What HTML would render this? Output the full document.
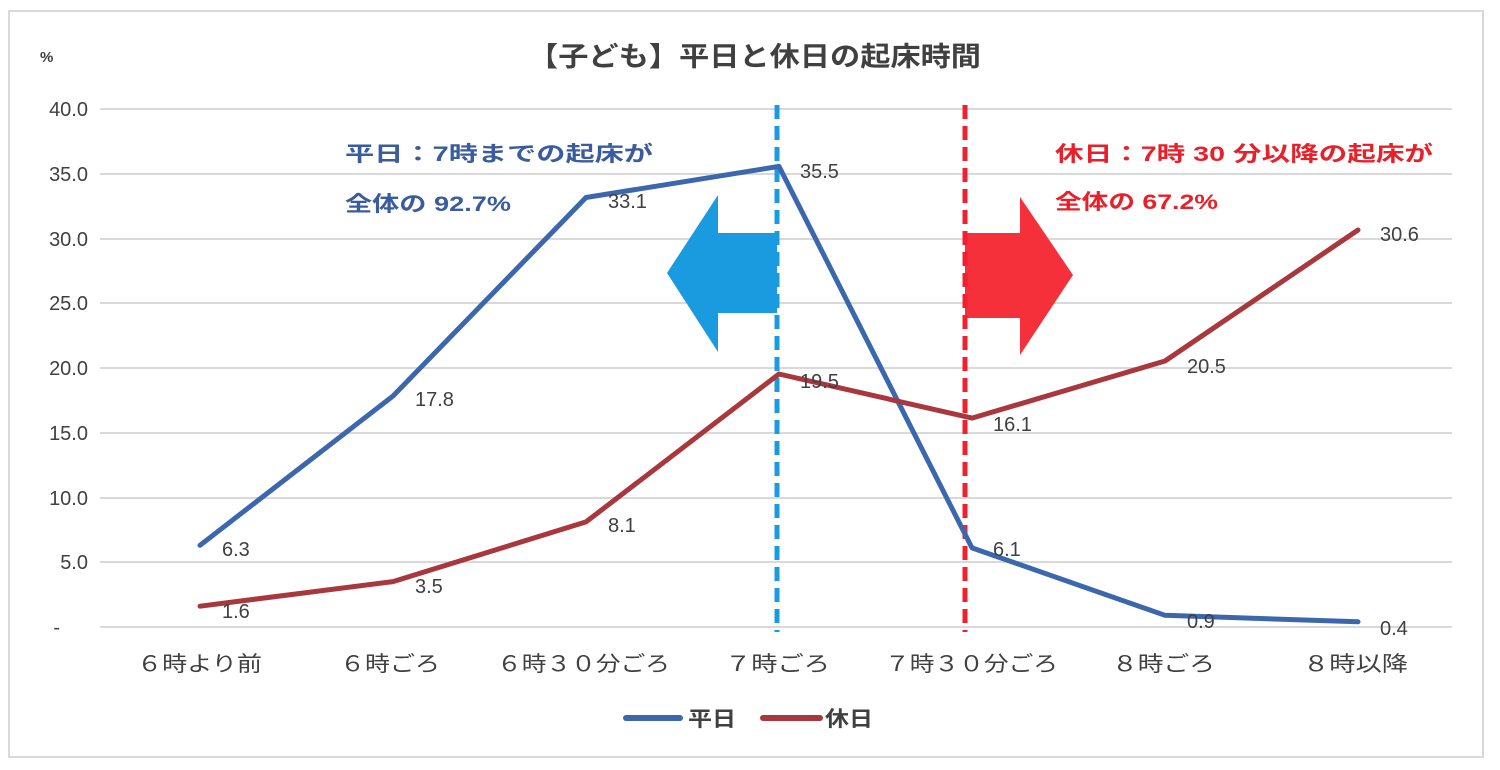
<!DOCTYPE html>
<html><head><meta charset="utf-8"><style>
html,body{margin:0;padding:0;background:#fff;}
svg{display:block;}
text{font-family:"Liberation Sans","Noto Sans CJK JP",sans-serif;}
</style></head><body>
<svg width="1500" height="770" viewBox="0 0 1500 770" xmlns="http://www.w3.org/2000/svg">
<rect x="0" y="0" width="1500" height="770" fill="#fff"/>
<rect x="9" y="11" width="1474" height="746" fill="#fff" stroke="#d9d9d9" stroke-width="2"/>
<!-- gridlines -->
<g stroke="#d9d9d9" stroke-width="2">
<line x1="100" y1="109" x2="1452" y2="109"/>
<line x1="100" y1="174" x2="1452" y2="174"/>
<line x1="100" y1="239" x2="1452" y2="239"/>
<line x1="100" y1="303" x2="1452" y2="303"/>
<line x1="100" y1="368" x2="1452" y2="368"/>
<line x1="100" y1="433" x2="1452" y2="433"/>
<line x1="100" y1="498" x2="1452" y2="498"/>
<line x1="100" y1="562" x2="1452" y2="562"/>
<line x1="100" y1="627" x2="1452" y2="627"/>
</g>
<!-- y labels -->
<g fill="#404040" font-size="20" text-anchor="end">
<text x="88" y="116">40.0</text>
<text x="88" y="181">35.0</text>
<text x="88" y="246">30.0</text>
<text x="88" y="310">25.0</text>
<text x="88" y="375">20.0</text>
<text x="88" y="440">15.0</text>
<text x="88" y="505">10.0</text>
<text x="88" y="569">5.0</text>
<text x="60" y="634">-</text>
</g>
<text x="40" y="62" fill="#404040" font-size="15" font-weight="bold">%</text>
<!-- title -->
<text x="528" y="66" fill="#404040" font-size="27" font-weight="bold" textLength="453" lengthAdjust="spacingAndGlyphs">【子ども】平日と休日の起床時間</text>
<!-- arrows -->
<polygon points="777,233 718,233 718,195 667,273 718,352 718,313 777,313" fill="#1a9be0"/>
<polygon points="965,233 1020,233 1020,197 1073,275 1020,355 1020,318 965,318" fill="#f5303b"/>
<!-- dashed lines -->
<line x1="777" y1="105" x2="777" y2="632" stroke="#1a9be0" stroke-width="5" stroke-dasharray="14,7"/>
<line x1="965" y1="105" x2="965" y2="632" stroke="#f0202e" stroke-width="5" stroke-dasharray="14,7"/>
<!-- series -->
<polyline fill="none" stroke="#3d67ad" stroke-width="5" stroke-linejoin="round" stroke-linecap="round"
points="200,545.3 393,396.0 586,197.5 779,166.4 972,547.9 1165,615.3 1358,621.8"/>
<polyline fill="none" stroke="#a8383d" stroke-width="5" stroke-linejoin="round" stroke-linecap="round"
points="200,606.2 393,581.6 586,521.9 779,374.0 972,418.1 1165,361.0 1358,230.0"/>
<!-- data labels -->
<g fill="#404040" font-size="20">
<text x="222" y="556">6.3</text>
<text x="415" y="406">17.8</text>
<text x="608" y="208">33.1</text>
<text x="800" y="178">35.5</text>
<text x="993" y="556">6.1</text>
<text x="1187" y="628">0.9</text>
<text x="1380" y="635">0.4</text>
<text x="222" y="618">1.6</text>
<text x="415" y="593">3.5</text>
<text x="608" y="532">8.1</text>
<text x="800" y="388">19.5</text>
<text x="993" y="431">16.1</text>
<text x="1187" y="373">20.5</text>
<text x="1380" y="241">30.6</text>
</g>
<!-- annotations -->
<g font-size="21" font-weight="bold">
<text x="345" y="161" fill="#3a5c9e" textLength="308" lengthAdjust="spacingAndGlyphs">平日：7時までの起床が</text>
<text x="345" y="211" fill="#3a5c9e" textLength="166" lengthAdjust="spacingAndGlyphs">全体の 92.7%</text>
<text x="1055" y="161" fill="#e8202a" textLength="378" lengthAdjust="spacingAndGlyphs">休日：7時 30 分以降の起床が</text>
<text x="1055" y="209" fill="#e8202a" textLength="163" lengthAdjust="spacingAndGlyphs">全体の 67.2%</text>
</g>
<!-- category labels -->
<g fill="#404040" font-size="21">
<text x="137" y="671" textLength="125" lengthAdjust="spacingAndGlyphs">６時より前</text>
<text x="340" y="671" textLength="100" lengthAdjust="spacingAndGlyphs">６時ごろ</text>
<text x="497" y="671" textLength="173" lengthAdjust="spacingAndGlyphs">６時３０分ごろ</text>
<text x="725" y="671" textLength="105" lengthAdjust="spacingAndGlyphs">７時ごろ</text>
<text x="885" y="671" textLength="173" lengthAdjust="spacingAndGlyphs">７時３０分ごろ</text>
<text x="1112" y="671" textLength="103" lengthAdjust="spacingAndGlyphs">８時ごろ</text>
<text x="1303" y="671" textLength="105" lengthAdjust="spacingAndGlyphs">８時以降</text>
</g>
<!-- legend -->
<line x1="626" y1="718" x2="680" y2="718" stroke="#3d67ad" stroke-width="6" stroke-linecap="round"/>
<text x="688" y="726" fill="#404040" font-size="21" font-weight="bold" textLength="48" lengthAdjust="spacingAndGlyphs">平日</text>
<line x1="763" y1="718" x2="820" y2="718" stroke="#a8383d" stroke-width="6" stroke-linecap="round"/>
<text x="825" y="726" fill="#404040" font-size="21" font-weight="bold" textLength="48" lengthAdjust="spacingAndGlyphs">休日</text>
</svg>
</body></html>
